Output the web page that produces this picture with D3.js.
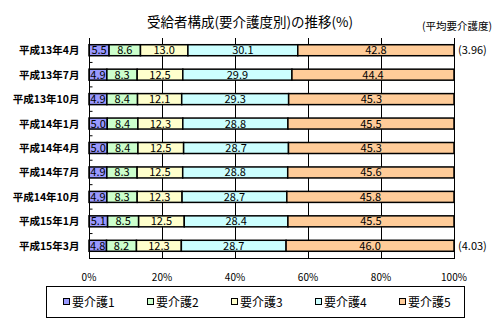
<!DOCTYPE html>
<html>
<head>
<meta charset="utf-8">
<script src="https://cdn.jsdelivr.net/npm/d3@7"></script>
<style>
  body { margin: 0; background: #fff; }
  svg { display: block; font-family: "Noto Sans CJK JP", sans-serif; }
</style>
</head>
<body>
<svg id="chart" width="503" height="323"></svg>
<script>
// Share of recipients by care level (%) for each survey month
const categories = ["平成13年4月", "平成13年7月", "平成13年10月", "平成14年1月", "平成14年4月",
                    "平成14年7月", "平成14年10月", "平成15年1月", "平成15年3月"];
const seriesNames = ["要介護1", "要介護2", "要介護3", "要介護4", "要介護5"];
const level1 = [5.5, 4.9, 4.9, 5.0, 5.0, 4.9, 4.9, 5.1, 4.8];
const level2 = [8.6, 8.3, 8.4, 8.4, 8.4, 8.3, 8.3, 8.5, 8.2];
const level3 = [13.0, 12.5, 12.1, 12.3, 12.5, 12.5, 12.3, 12.5, 12.3];
const level4 = [30.1, 29.9, 29.3, 28.8, 28.7, 28.8, 28.7, 28.4, 28.7];
const level5 = [42.8, 44.4, 45.3, 45.5, 45.3, 45.6, 45.8, 45.5, 46.0];
const colors = ["#9999FF", "#CCFFCC", "#FFFFCC", "#CCFFFF", "#FFCC99"];
const xTicks = [0, 20, 40, 60, 80, 100];
const avgNotes = [{ row: 0, text: "(3.96)" }, { row: 8, text: "(4.03)" }];

const values = [level1, level2, level3, level4, level5];
const rows = categories.map((c, i) => {
  const r = { cat: c };
  seriesNames.forEach((s, j) => r[s] = values[j][i]);
  return r;
});

const svg = d3.select("#chart");
const plotL = 89, plotR = 454, plotT = 38, plotB = 258;

const x = d3.scaleLinear().domain([0, 100]).range([plotL, plotR]);
const y = d3.scaleBand().domain(categories).range([plotT, plotB]).paddingInner(0.55).paddingOuter(0.275);

// Title
svg.append("text").attr("x", 250).attr("y", 27).attr("text-anchor", "middle")
  .attr("font-size", 13.5).attr("fill", "#000").text("受給者構成(要介護度別)の推移(%)");
svg.append("text").attr("x", 492).attr("y", 30).attr("text-anchor", "end")
  .attr("font-size", 10.5).attr("fill", "#000").text("(平均要介護度)");

// Vertical gridlines
svg.append("g").selectAll("line").data(xTicks.slice(1)).join("line")
  .attr("x1", d => x(d) + 0.5).attr("x2", d => x(d) + 0.5)
  .attr("y1", plotT).attr("y2", plotB)
  .attr("stroke", "#000").attr("stroke-width", 1);

// Stacked bars, normalised to 100%
const stack = d3.stack().keys(seriesNames).offset(d3.stackOffsetExpand);
const layers = stack(rows);

const g = svg.append("g");
layers.forEach((layer, j) => {
  const lg = g.append("g");
  lg.selectAll("rect").data(layer).join("rect")
    .attr("x", d => x(d[0] * 100))
    .attr("y", d => y(d.data.cat))
    .attr("width", d => x(d[1] * 100) - x(d[0] * 100))
    .attr("height", y.bandwidth())
    .attr("fill", colors[j])
    .attr("stroke", "#000").attr("stroke-width", 1.5);
  lg.selectAll("text").data(layer).join("text")
    .attr("x", d => (x(d[0] * 100) + x(d[1] * 100)) / 2)
    .attr("y", d => y(d.data.cat) + y.bandwidth() / 2 + 4)
    .attr("text-anchor", "middle").attr("font-size", 11).attr("fill", "#000")
    .text(d => d.data[seriesNames[j]].toFixed(1));
});

// Category axis
const yAxis = svg.append("g").attr("transform", `translate(${plotL + 0.5},0)`);
yAxis.append("line").attr("y1", plotT).attr("y2", plotB).attr("stroke", "#000");
const bounds = d3.range(1, categories.length).map(i => plotT + i * y.step());
yAxis.selectAll("line.tick").data(bounds).join("line").attr("class", "tick")
  .attr("x1", 0).attr("x2", 3).attr("y1", d => d).attr("y2", d => d).attr("stroke", "#000");
yAxis.selectAll("text").data(categories).join("text")
  .attr("x", -10).attr("y", d => y(d) + y.bandwidth() / 2 + 4)
  .attr("text-anchor", "end").attr("font-size", 10.5).attr("font-weight", "bold").attr("fill", "#000")
  .text(d => d);

// Value axis
svg.append("line").attr("x1", plotL).attr("x2", plotR + 1).attr("y1", plotB + 0.5).attr("y2", plotB + 0.5).attr("stroke", "#000");
svg.append("g").selectAll("text").data(xTicks).join("text")
  .attr("x", d => x(d)).attr("y", 281).attr("text-anchor", "middle")
  .attr("font-size", 10).attr("fill", "#000").text(d => d + "%");

// Average care level notes
svg.append("g").selectAll("text").data(avgNotes).join("text")
  .attr("x", 458).attr("y", d => y(categories[d.row]) + y.bandwidth() / 2 + 4)
  .attr("font-size", 11).attr("fill", "#000").text(d => d.text);

// Legend
const legend = svg.append("g");
legend.append("rect").attr("x", 46.5).attr("y", 286.5).attr("width", 418).attr("height", 31)
  .attr("fill", "#fff").attr("stroke", "#000");
const items = legend.selectAll("g").data(seriesNames).join("g")
  .attr("transform", (d, i) => `translate(${63 + i * 84},302)`);
items.append("rect").attr("x", 0.5).attr("y", -3.5).attr("width", 6).attr("height", 6)
  .attr("fill", (d, i) => colors[i]).attr("stroke", "#000");
items.append("text").attr("x", 9).attr("y", 4.5).attr("font-size", 12).attr("fill", "#000").text(d => d);
</script>
</body>
</html>
